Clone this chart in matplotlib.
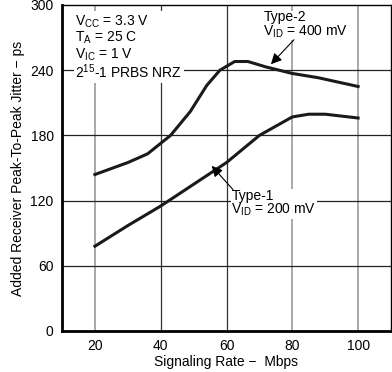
import matplotlib
matplotlib.use('Agg')
import matplotlib.pyplot as plt

plt.rcParams['font.family'] = ['Liberation Sans', 'DejaVu Sans']

# Type-2, VID = 400 mV
rate2 = [20, 30, 36, 43, 49, 54, 58, 62.5, 66.5, 72, 80, 88, 100]
jit2 = [144, 155, 163, 180, 202, 226, 240, 248, 248, 243, 237, 233, 225]
# Type-1, VID = 200 mV
rate1 = [20, 30, 40, 50, 60, 70, 80, 85, 90, 100]
jit1 = [78, 97, 115, 135, 155, 180, 197, 199.5, 199.5, 196]

xticks = [20, 40, 60, 80, 100]
yticks = [0, 60, 120, 180, 240, 300]

fig = plt.figure(figsize=(3.92, 3.72), dpi=100)
ax = fig.add_axes([62/392, 1-331/372, 329/392, 326/372])

#-- grid
for xv in xticks:
    c = '#999999' if xv in (20, 80, 100) else '#333333'
    ax.axvline(xv, color=c, lw=1.2 if c == '#999999' else 0.9, zorder=1)
for yv in yticks[1:-1]:
    ax.axhline(yv, color='#222222', lw=0.9, zorder=1)

ax.plot(rate2, jit2, color='#1a1a1a', lw=2.2, zorder=3)
ax.plot(rate1, jit1, color='#1a1a1a', lw=2.2, zorder=3)

ax.set_xlim(10, 110)
ax.set_ylim(0, 300)
ax.set_xticks(xticks)
ax.set_yticks(yticks)
ax.tick_params(length=0, labelsize=10, pad=6)
for s in ('left', 'bottom'):
    ax.spines[s].set_linewidth(2)
for s in ('top', 'right'):
    ax.spines[s].set_linewidth(1)

ax.set_xlabel('Signaling Rate −  Mbps', fontsize=10, labelpad=1)
ax.set_ylabel('Added Receiver Peak-To-Peak Jitter − ps', fontsize=10, labelpad=4)

#-- conditions
ax.text(14, 292, '$\\mathregular{V_{CC}}$ = 3.3 V\n$\\mathregular{T_A}$ = 25 C\n'
        '$\\mathregular{V_{IC}}$ = 1 V\n$\\mathregular{2^{15}}$-1 PRBS NRZ',
        fontsize=10, va='top', ha='left', linespacing=1.0, zorder=4,
        bbox=dict(fc='white', ec='none', pad=1))

#-- annotations
arrow = dict(arrowstyle='-|>', color='black', lw=0.8, mutation_scale=16,
             shrinkA=0, shrinkB=0)
ax.text(71.2, 295, 'Type-2\n$\\mathregular{V_{ID}}$ = 400 mV', fontsize=10,
        va='top', ha='left', linespacing=0.9, zorder=4,
        bbox=dict(fc='white', ec='none', pad=0.5))
ax.annotate('', xy=(73.5, 245.5), xytext=(80.5, 268), arrowprops=arrow, zorder=6)
ax.text(61.5, 131, 'Type-1\n$\\mathregular{V_{ID}}$ = 200 mV', fontsize=10,
        va='top', ha='left', linespacing=0.9, zorder=4,
        bbox=dict(fc='white', ec='none', pad=0.5))
ax.annotate('', xy=(55.5, 152), xytext=(62, 130), arrowprops=arrow, zorder=6)

fig.savefig('out.png', dpi=100)
